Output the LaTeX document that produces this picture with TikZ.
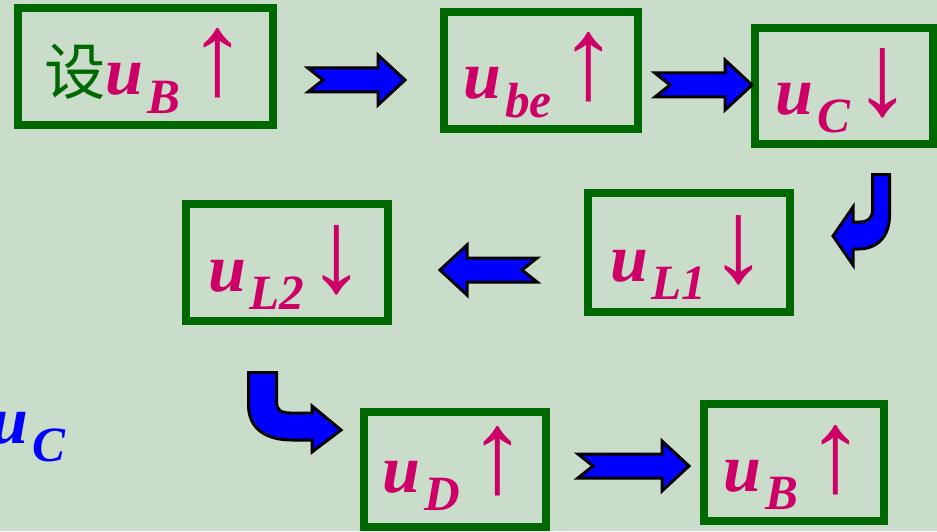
\documentclass[tikz,border=0pt]{standalone}
\usepackage{fontspec}
\setmainfont{Liberation Serif}
\newfontfamily\cjk{Noto Sans CJK SC}
\usetikzlibrary{positioning}

\definecolor{bgc}{RGB}{202,221,202}
\definecolor{boxg}{RGB}{0,104,0}
\definecolor{txtr}{RGB}{204,0,102}
\definecolor{arrb}{RGB}{0,0,255}

% u with a lowered subscript, bold italic
\newcommand{\uvar}[1]{{\fontsize{51}{51}\selectfont\bfseries\itshape u}%
  \kern3pt\raisebox{-13.5pt}{\fontsize{37}{37}\selectfont\bfseries\itshape #1}}
\newcommand{\upar}{{\fontsize{88}{88}\selectfont ↑}}
\newcommand{\dnar}{{\fontsize{88}{88}\selectfont ↓}}
\newcommand{\shezh}{{\fontsize{46}{46}\cjk\color{boxg}设}}

\begin{document}
\begin{tikzpicture}[x=0.75pt, y=-0.75pt,
  box/.style 2 args={draw=boxg, line width=6pt, inner sep=0pt, text=txtr,
                     text height=50pt, text depth=7.25pt,
                     minimum width={#1*0.75pt}, minimum height={#2*0.75pt}},
  blk/.style={fill=arrb, draw=black, line width=2.25pt, line join=miter},
  pics/barrow/.style={code={
    \draw[blk] (0,-12) -- (#1-27,-12) -- (#1-27,-25) -- (#1,0)
      -- (#1-27,25) -- (#1-27,12) -- (0,12) -- (15,0) -- cycle;}}]
  \useasboundingbox (0,0) rectangle (937,531);
  \clip (0,0) rectangle (937,531);
  \fill[bgc] (0,0) rectangle (937,531);

  % boxes of the chain
  \node[box={255}{117}] (b1) at (145.5,66.5) {\shezh\uvar{B}\hspace{6pt}\upar};
  \node[box={194}{117}] (b2) at (541,70.5) {\uvar{be}\hspace{6pt}\upar};
  \node[box={178}{116}] (b3) at (844,86) {\uvar{C}\hspace{2pt}\dnar};
  \node[box={202}{119}] (b4) at (689,252.5) {\uvar{L1}\hspace{2pt}\dnar};
  \node[box={202}{117}] (b5) at (287,262.5) {\uvar{L2}\hspace{2pt}\dnar};
  \node[box={182}{115}, text height=46pt, text depth=11pt] (b6) at (455,469.5) {\uvar{D}\hspace{6pt}\upar};
  \node[box={180}{117}] (b7) at (794,462.5) {\uvar{B}\hspace{6pt}\upar};

  \node[anchor=base west, inner sep=0pt, text=arrb] (uc) at (-10,443) {\uvar{C}};

  % straight block arrows
  \coordinate (a1) at (308,80);
  \coordinate (a2) at (655,85);
  \coordinate (a4) at (537,270);
  \coordinate (a6) at (578,466);
  \pic at (a1) {barrow=97};
  \pic at (a2) {barrow=97};
  \pic[rotate=180] at (a4) {barrow=97};
  \pic at (a6) {barrow=111};

  % bent arrows
  \draw[blk] (872.5,174.5) -- (889.5,174.5) -- (889.5,215)
    .. controls (889.5,238) and (876,249) .. (858,249) -- (853,249)
    -- (853,265) -- (833,236) -- (853,207) -- (853,222) -- (860,222)
    .. controls (868,222) and (872.5,218) .. (872.5,210) -- cycle;
  \draw[blk] (248.5,372.5) -- (276.5,372.5) -- (276.5,402)
    .. controls (276.5,409) and (280,413) .. (290,413) -- (312,413)
    -- (312,406) -- (341,430) -- (312,452) -- (312,440) -- (292,440)
    .. controls (265,440) and (248.5,428) .. (248.5,405) -- cycle;
\end{tikzpicture}
\end{document}
